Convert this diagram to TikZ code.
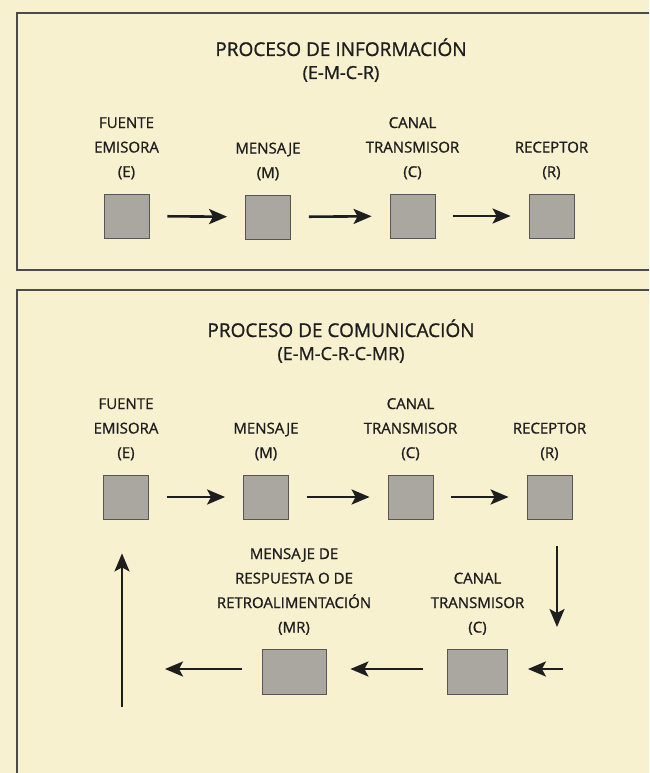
\documentclass[tikz,border=0pt]{standalone}
\usepackage{fontspec}
\setmainfont{Open Sans}[UprightFeatures={FakeBold=1.0}]
\usetikzlibrary{arrows.meta,positioning}
\definecolor{paper}{HTML}{F7F1D0}
\definecolor{boxgray}{HTML}{A9A7A0}
\definecolor{ink}{HTML}{1E1E1E}
\tikzset{
  grayBox/.style={draw=ink!75, fill=boxgray, line width=0.8pt, minimum width=45pt, minimum height=44pt, inner sep=0pt},
  wideBox/.style={grayBox, minimum width=60pt, minimum height=45pt},
  stageLabel/.style={font=\fontsize{15}{24.5}\selectfont, align=center, inner sep=0pt, text=ink},
  titleLabel/.style={font=\fontsize{19}{22}\selectfont, text=ink, inner sep=0pt},
  codeLabel/.style={font=\fontsize{18}{20}\selectfont, text=ink, inner sep=0pt},
  frameLine/.style={draw=ink!80, line width=1.3pt},
  flowArrow/.style={-{Stealth[length=18pt,width=15pt,inset=4pt]}, line width=2.6pt, draw=ink, shorten <=18pt, shorten >=18pt}
}
\begin{document}
\begin{tikzpicture}[x=1pt, y=-1pt, node distance=14pt]
  \clip (0,0) rectangle (649,773);
  \fill[paper] (0,0) rectangle (649,773);

  % proceso de informacion
  \draw[frameLine] (17,13) rectangle (700,270);
  \node[titleLabel, anchor=base] (infTitle) at (341,56) {PROCESO DE INFORMACIÓN};
  \node[codeLabel, anchor=base] (infCode) at (341,79) {(E-M-C-R)};

  \node[grayBox] (infE) at (126.5,216) {};
  \node[grayBox] (infM) at (268,217) {};
  \node[grayBox] (infC) at (412.5,216) {};
  \node[grayBox] (infR) at (551.5,216) {};

  \node[stageLabel, above=of infE] (infELab) {FUENTE\\EMISORA\\(E)};
  \node[stageLabel, above=of infM] (infMLab) {MENSAJE\\(M)};
  \node[stageLabel, above=of infC] (infCLab) {CANAL\\TRANSMISOR\\(C)};
  \node[stageLabel, above=of infR] (infRLab) {RECEPTOR\\(R)};

  \draw[flowArrow] (infE) -- (infM);
  \draw[flowArrow] (infM) -- (infC);
  \draw[flowArrow] (infC) -- (infR);

  % proceso de comunicacion
  \draw[frameLine] (17,290) rectangle (700,800);
  \node[titleLabel, anchor=base] (comTitle) at (341,337) {PROCESO DE COMUNICACIÓN};
  \node[codeLabel, anchor=base] (comCode) at (341,360) {(E-M-C-R-C-MR)};

  \node[grayBox] (comE) at (126,497) {};
  \node[grayBox] (comM) at (266,497) {};
  \node[grayBox] (comC) at (410.5,497) {};
  \node[grayBox] (comR) at (549.5,497) {};

  \node[stageLabel, above=of comE] (comELab) {FUENTE\\EMISORA\\(E)};
  \node[stageLabel, above=of comM] (comMLab) {MENSAJE\\(M)};
  \node[stageLabel, above=of comC] (comCLab) {CANAL\\TRANSMISOR\\(C)};
  \node[stageLabel, above=of comR] (comRLab) {RECEPTOR\\(R)};

  \draw[flowArrow] (comE) -- (comM);
  \draw[flowArrow] (comM) -- (comC);
  \draw[flowArrow] (comC) -- (comR);

  % retroalimentacion
  \node[wideBox] (backC) at (477.5,672) {};
  \node[wideBox, minimum width=64pt] (backMR) at (294,672) {};
  \node[stageLabel, above=of backC] (backCLab) {CANAL\\TRANSMISOR\\(C)};
  \node[stageLabel, above=of backMR] (backMRLab) {MENSAJE DE\\RESPUESTA O DE\\RETROALIMENTACIÓN\\(MR)};

  \coordinate (turnDown) at (557,627);
  \coordinate (turnIn) at (563,669);
  \coordinate (turnOut) at (165,669);
  \coordinate (turnUp) at (122,707);

  \draw[flowArrow, shorten <=27pt, shorten >=0pt] (comR.south -| turnDown) -- (turnDown);
  \draw[flowArrow, shorten <=0pt, shorten >=20pt] (turnIn) -- (backC.east |- turnIn);
  \draw[flowArrow, shorten <=24pt, shorten >=24pt] (backC.west |- turnIn) -- (backMR.east |- turnIn);
  \draw[flowArrow, shorten <=20pt, shorten >=0pt] (backMR.west |- turnIn) -- (turnOut);
  \draw[flowArrow, shorten <=0pt, shorten >=34pt] (turnUp) -- (comE.south -| turnUp);
\end{tikzpicture}
\end{document}
